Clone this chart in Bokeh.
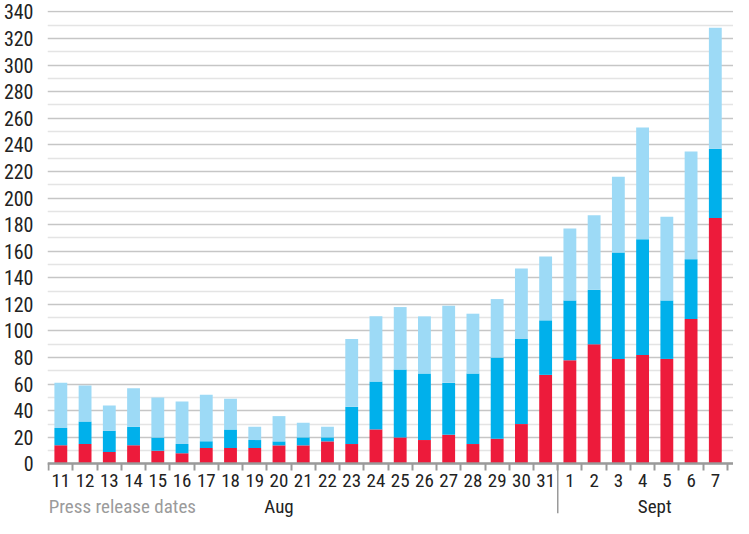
from bokeh.plotting import figure
from bokeh.models import ColumnDataSource, Range1d, FixedTicker, CustomJSTickFormatter
from bokeh.core.properties import value
from bokeh.embed import file_html
from bokeh.resources import INLINE

# ---- data -------------------------------------------------------------
days = ["11", "12", "13", "14", "15", "16", "17", "18", "19", "20", "21",
        "22", "23", "24", "25", "26", "27", "28", "29", "30", "31",
        "1", "2", "3", "4", "5", "6", "7"]
red = [14, 15, 9, 14, 10, 8, 12, 12, 12, 14, 14, 17, 15, 26, 20, 18, 22,
       15, 19, 30, 67, 78, 90, 79, 82, 79, 109, 185]
blue = [13, 17, 16, 14, 10, 7, 5, 14, 6, 3, 6, 3, 28, 36, 51, 50, 39, 53,
        61, 64, 41, 45, 41, 80, 87, 44, 45, 52]
light = [34, 27, 19, 29, 30, 32, 35, 23, 10, 19, 11, 8, 51, 49, 47, 43, 58,
         45, 44, 53, 48, 54, 56, 57, 84, 63, 81, 91]
y_ticks = list(range(0, 341, 20))
months = ["Aug", "Sept"]
caption = "Press release dates"

# ---- style ------------------------------------------------------------
FONT = "'Roboto Condensed', 'Liberation Sans Narrow', Roboto"
COLORS = ["#ED1B3B", "#00B0EB", "#9DDAF6"]
TEXT = "#222222"
AXIS = "#9a9a9a"
BELOW = -41          # room under the zero line for the date labels

p = figure(width=733, height=518, output_backend="svg", toolbar_location=None,
           x_range=Range1d(-0.05, 28.25), y_range=Range1d(BELOW, 341),
           min_border_left=37, min_border_right=0, min_border_top=10,
           min_border_bottom=0, outline_line_color=None)

src = ColumnDataSource(dict(x=[i + 0.5 for i in range(len(days))],
                            red=red, blue=blue, light=light))
p.vbar_stack(["red", "blue", "light"], x="x", width=0.53, color=COLORS,
             line_width=0, source=src)

# y axis / grid
p.yaxis.ticker = FixedTicker(ticks=y_ticks,
                             minor_ticks=[t + 10 for t in y_ticks[:-1]])
p.yaxis.axis_line_color = None
p.yaxis.major_tick_line_color = None
p.yaxis.minor_tick_line_color = None
p.yaxis.major_label_text_font = FONT
p.yaxis.major_label_text_font_size = "20px"
p.yaxis.major_label_text_color = TEXT
p.yaxis.major_label_standoff = 8
p.ygrid.ticker = p.yaxis.ticker
p.ygrid.grid_line_color = "#c6c6c6"
p.ygrid.grid_line_width = 1.5
p.ygrid.minor_grid_line_color = "#e4e4e4"
p.ygrid.minor_grid_line_width = 1.5
p.xgrid.grid_line_color = None

# x axis sits on the zero line: labels at bar centres, ticks at slot edges
xa = p.xaxis[0]
xa.fixed_location = 0
xa.ticker = FixedTicker(ticks=[i + 0.5 for i in range(len(days))],
                        minor_ticks=list(range(len(days) + 1)))
xa.formatter = CustomJSTickFormatter(args=dict(labels=days),
                                     code="return labels[Math.floor(tick)] || '';")
xa.major_tick_line_color = None
xa.major_tick_out = 6
xa.minor_tick_in = 0
xa.minor_tick_out = 7
xa.minor_tick_line_color = AXIS
xa.minor_tick_line_width = 2
xa.axis_line_color = AXIS
xa.axis_line_width = 2.5
xa.major_label_text_font = FONT
xa.major_label_text_font_size = "19px"
xa.major_label_text_color = TEXT
xa.major_label_standoff = 3

# secondary labels and the month divider
lab_y = -32
p.text(x=[0], y=[lab_y], text=[caption], text_font=value(FONT),
       text_font_size="19px", text_color="#9b9b9b", text_align="left",
       text_baseline="alphabetic")
p.text(x=[days.index("20") + 0.5, days.index("5")], y=[lab_y, lab_y],
       text=months, text_font=value(FONT), text_font_size="19px",
       text_color=TEXT, text_align="center", text_baseline="alphabetic")
sep = days.index("1")
p.segment(x0=[sep], y0=[0], x1=[sep], y1=[BELOW + 4], line_color=AXIS,
          line_width=1.5)

open("out.html", "w").write(file_html(p, INLINE))
